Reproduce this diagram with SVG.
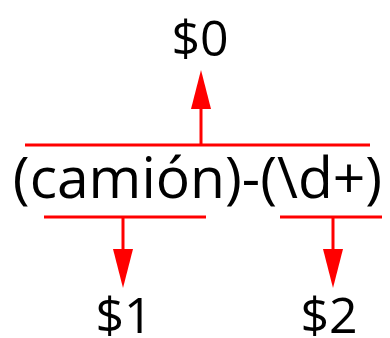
<svg xmlns="http://www.w3.org/2000/svg" width="390" height="338" viewBox="0 0 390 338">
<style>
text{font-family:"Open Sans","Noto Sans",sans-serif;fill:#000;text-anchor:middle}
.lbl{font-size:50px}
.main{font-size:57px}
.br{stroke:#ff0000;stroke-width:3;fill:none}
</style>
<rect width="390" height="338" fill="#fff"/>
<g id="n0"><text class="lbl" x="200" y="56">$0</text></g>
<g id="expr"><text class="main" x="197.5" y="198">(camión)-(\d+)</text></g>
<g id="n1"><text class="lbl" x="124" y="333">$1</text></g>
<g id="n2"><text class="lbl" x="329" y="333">$2</text></g>
<g id="connectors">
<line class="br" x1="25" y1="145" x2="370" y2="145"/>
<line class="br" x1="44" y1="217" x2="206" y2="217"/>
<line class="br" x1="280" y1="217" x2="382" y2="217"/>
<line class="br" x1="201" y1="145" x2="201" y2="108"/>
<polygon points="191,109 211,109 201,70" fill="#ff0000"/>
<line class="br" x1="123" y1="217" x2="123" y2="250"/>
<polygon points="113,249 133,249 123,288" fill="#ff0000"/>
<line class="br" x1="333" y1="217" x2="333" y2="250"/>
<polygon points="323,249 343,249 333,288" fill="#ff0000"/>
</g>
</svg>
